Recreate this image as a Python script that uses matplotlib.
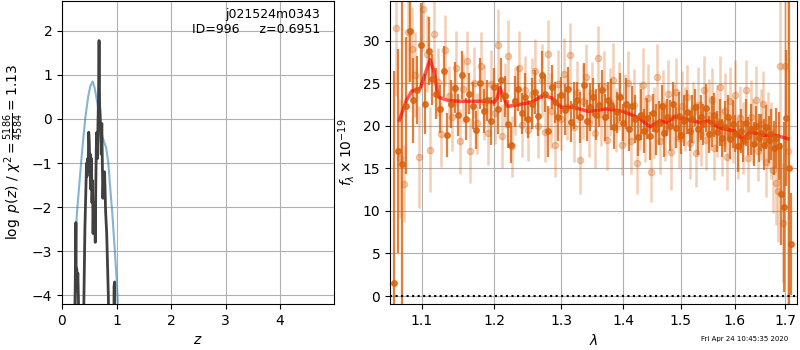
#!/usr/bin/python
"""Redshift fit summary figure: p(z) on the left, spectrum on the right."""

import numpy as np
import matplotlib
matplotlib.use('Agg')
import matplotlib.pyplot as plt

# p(z) panel
# -----------------------------------------------------------------------------
z_prior = [0.20, 0.24, 0.27, 0.31, 0.35, 0.39, 0.43, 0.48, 0.52, 0.563, 0.60,
           0.65, 0.70, 0.74, 0.78, 0.81, 0.85, 0.88, 0.92, 0.97, 1.00, 1.03, 1.06]
logp_prior = [-5.5, -3.4, -2.2, -1.6, -1.0, -0.45, 0.05, 0.5, 0.75, 0.85, 0.7,
              0.35, -0.1, -0.4, -0.55, -0.65, -1.0, -1.5, -2.1, -3.0, -3.6, -4.3, -5.5]

z_fit = [0.22, 0.245, 0.255, 0.262, 0.27, 0.28, 0.29, 0.30, 0.33, 0.38,
         0.42, 0.44, 0.45, 0.46, 0.47, 0.48, 0.49, 0.50, 0.51, 0.52,
         0.53, 0.54, 0.55, 0.56, 0.57, 0.58, 0.59, 0.60, 0.61, 0.62,
         0.63, 0.64, 0.65, 0.66, 0.67, 0.68, 0.69, 0.70, 0.71, 0.72,
         0.73, 0.74, 0.75, 0.76, 0.77, 0.78, 0.79, 0.80, 0.82, 0.85,
         0.87, 0.95, 0.955, 0.965, 0.975]
logp_fit = [-6.0, -4.0, -2.35, -3.9, -3.4, -3.9, -3.5, -4.0, -6.0, -6.0,
            -2.5, -1.5, -1.0, -1.3, -0.9, -1.1, -0.3, -0.5, -1.2, -0.8,
            -1.6, -0.9, -1.9, -1.4, -2.6, -1.9, -2.4, -2.0, -2.8, -1.5,
            -0.6, -0.3, -0.9, -0.1, 0.5, 1.78, 0.3, 0.1, -0.3, -0.8,
            -0.1, -1.0, -1.8, -1.4, -1.7, -1.2, -1.6, -2.1, -2.6, -4.0,
            -6.0, -6.0, -3.8, -3.7, -6.0]

# spectrum panel
# -----------------------------------------------------------------------------
wave_dark = np.linspace(1.064, 1.712, 130)
flux_dark = [1.5, 17.0, 15.5, 22.4, 31.2, 23.0, 24.2, 29.5, 22.6, 28.8,
             25.5, 23.8, 22.0, 26.4, 18.9, 22.6, 24.5, 21.3, 26.0, 20.8,
             23.8, 22.4, 19.5, 25.0, 21.8, 23.0, 20.6, 24.6, 22.0, 25.4,
             23.5, 20.2, 17.8, 22.9, 24.4, 21.5, 23.4, 20.8, 22.6, 24.0,
             21.2, 26.0, 23.8, 19.4, 24.6, 22.8, 21.0, 23.6, 21.9, 24.3,
             20.5, 22.4, 23.0, 21.0, 24.8, 20.6, 22.2, 23.4, 21.3, 22.5,
             24.2, 21.0, 23.0, 22.5, 19.9, 21.6, 23.4, 20.4, 22.6, 19.6,
             22.3, 20.8, 18.7, 21.3, 19.4, 20.9, 18.8, 21.5, 19.6, 20.3,
             22.4, 19.2, 21.0, 20.0, 22.6, 19.8, 21.2, 18.9, 20.6, 21.6,
             19.4, 20.8, 22.2, 19.6, 21.0, 20.2, 22.1, 19.0, 20.5, 21.3,
             19.3, 20.4, 18.6, 19.9, 21.0, 18.5, 20.2, 19.1, 17.6, 19.4,
             18.2, 20.4, 18.8, 19.6, 17.9, 20.0, 18.6, 19.2, 17.8, 19.9,
             18.4, 19.0, 17.4, 18.6, 17.6, 12.0, 10.5, 20.9, 15.0, 6.1]
err_dark = [25.0, 12.0, 20.0, 8.0, 6.0, 5.0, 4.0, 5.0, 3.5, 4.0,
            3.0, 3.0, 2.8, 3.0, 2.6, 2.8, 3.0, 2.5, 2.8, 2.5,
            2.4, 2.8, 2.2, 3.0, 2.6, 2.4, 2.8, 2.2, 3.0, 2.6,
            2.4, 2.8, 2.2, 3.0, 2.6, 2.4, 2.8, 2.2, 3.0, 2.6,
            2.4, 2.8, 2.2, 3.0, 2.6, 2.4, 2.8, 2.2, 3.0, 2.6,
            2.4, 2.8, 2.2, 3.0, 2.6, 2.4, 2.8, 2.2, 3.0, 2.6,
            2.4, 2.8, 2.2, 3.0, 2.6, 2.4, 2.8, 2.2, 3.0, 2.6,
            2.4, 2.8, 2.2, 3.0, 2.6, 2.4, 2.8, 2.2, 3.0, 2.6,
            2.4, 2.8, 2.2, 3.0, 2.6, 2.4, 2.8, 2.2, 3.0, 2.6,
            2.4, 2.8, 2.2, 3.0, 2.6, 2.4, 2.8, 2.2, 3.0, 2.6,
            2.4, 2.8, 2.2, 3.0, 2.6, 2.4, 2.8, 2.2, 3.0, 2.6,
            2.4, 2.8, 2.2, 3.0, 2.6, 2.4, 2.8, 2.2, 3.0, 2.6,
            2.8, 3.0, 3.2, 3.5, 4.0, 6.0, 10.0, 8.0, 22.0, 6.0]

wave_light = np.linspace(1.067, 1.705, 130)
flux_light = [31.5, 16.2, 13.2, 31.0, 29.0, 26.0, 16.4, 33.8, 28.5, 17.2,
              30.8, 25.2, 19.0, 28.9, 23.5, 21.0, 26.8, 18.2, 24.4, 27.6,
              17.1, 25.1, 20.3, 27.0, 22.8, 19.2, 24.9, 21.5, 29.5, 18.8,
              23.6, 28.2, 17.6, 22.9, 26.8, 20.1, 24.2, 19.5, 23.8, 26.4,
              20.0, 25.4, 19.3, 28.4, 21.8, 17.8, 24.9, 20.8, 26.1, 22.2,
              28.3, 19.9, 24.0, 16.0, 22.9, 25.8, 20.3, 23.9, 19.2, 28.0,
              21.4, 24.6, 18.4, 22.8, 25.4, 20.7, 23.5, 17.8, 21.9, 25.0,
              18.2, 22.5, 15.6, 21.2, 24.8, 19.6, 23.3, 14.6, 20.4, 25.8,
              18.2, 22.4, 19.5, 23.7, 16.9, 21.1, 24.0, 18.6, 22.3, 20.8,
              23.4, 18.0, 21.6, 16.8, 22.5, 19.1, 24.2, 18.4, 21.3, 23.0,
              17.4, 20.6, 24.6, 18.1, 21.8, 16.3, 22.9, 19.2, 23.6, 17.6,
              20.9, 18.6, 24.2, 16.2, 21.0, 19.4, 23.1, 17.1, 20.2, 22.6,
              15.7, 19.5, 18.3, 14.8, 13.3, 12.3, 27.0, 8.6, 27.0, 17.0]
err_light = [8.0, 7.0, 4.5, 6.0, 5.0, 5.0, 6.0, 5.0, 4.5, 5.0,
             4.5, 4.0, 3.8, 4.2, 3.6, 4.0, 4.4, 3.8, 4.0, 3.6,
             3.8, 4.2, 3.6, 4.0, 4.4, 3.8, 4.0, 3.6, 4.2, 3.8,
             3.8, 4.2, 3.6, 4.0, 4.4, 3.8, 4.0, 3.6, 4.2, 3.8,
             3.8, 4.2, 3.6, 4.0, 4.4, 3.8, 4.0, 3.6, 4.2, 3.8,
             3.8, 4.2, 3.6, 4.0, 4.4, 3.8, 4.0, 3.6, 4.2, 3.8,
             3.8, 4.2, 3.6, 4.0, 4.4, 3.8, 4.0, 3.6, 4.2, 3.8,
             3.8, 4.2, 3.6, 4.0, 4.4, 3.8, 4.0, 3.6, 4.2, 3.8,
             3.8, 4.2, 3.6, 4.0, 4.4, 3.8, 4.0, 3.6, 4.2, 3.8,
             3.8, 4.2, 3.6, 4.0, 4.4, 3.8, 4.0, 3.6, 4.2, 3.8,
             3.8, 4.2, 3.6, 4.0, 4.4, 3.8, 4.0, 3.6, 4.2, 3.8,
             3.8, 4.2, 3.6, 4.0, 4.4, 3.8, 4.0, 3.6, 4.2, 3.8,
             4.0, 4.5, 4.5, 5.0, 5.0, 6.0, 8.0, 7.0, 9.0, 18.0]

wave_model = [1.071, 1.080, 1.087, 1.098, 1.104, 1.111, 1.116, 1.122, 1.135, 1.150,
              1.170, 1.190, 1.200, 1.204, 1.208, 1.213, 1.219, 1.235, 1.255, 1.272,
              1.285, 1.300, 1.319, 1.343, 1.373, 1.400, 1.425, 1.446, 1.463, 1.475,
              1.490, 1.515, 1.535, 1.550, 1.570, 1.600, 1.615, 1.630, 1.656, 1.680,
              1.705]
flux_model = [20.7, 23.0, 24.1, 24.4, 26.0, 27.8, 26.5, 23.4, 23.0, 22.9,
              22.9, 22.9, 22.8, 23.3, 24.5, 23.4, 22.3, 22.5, 22.8, 23.6,
              23.3, 22.2, 22.2, 21.7, 22.0, 21.7, 21.0, 19.9, 20.6, 20.4,
              21.1, 20.7, 20.4, 20.6, 19.8, 19.4, 18.4, 19.3, 18.9, 18.9,
              18.5]

xticks_spec = [1.1, 1.2, 1.3, 1.4, 1.5, 1.6, 1.7]
orange = '#d9600b'


# main function
# -----------------------------------------------------------------------------
def main():
    fig = plt.figure(figsize=(8, 3.5), dpi=100)

    # left: p(z)
    ax = fig.add_axes([0.0775, 0.1314, 0.34, 0.866])
    ax.plot(z_prior, logp_prior, color='tab:blue', alpha=0.55, lw=1.5)
    ax.plot(z_fit, logp_fit, color='0.25', lw=2)
    ax.set_xlim(0, 4.99)
    ax.set_ylim(-4.2, 2.68)
    ax.set_xticks([0, 1, 2, 3, 4])
    ax.set_yticks([-4, -3, -2, -1, 0, 1, 2])
    ax.grid()
    ax.set_xlabel(r'$z$')
    ax.set_ylabel(r'$\log\ p(z)$' + ' / ' + r'$\chi^2=\frac{5186}{4584}=1.13$')
    ax.text(0.95, 0.975, 'j021524m0343\nID=996     z=0.6951', ha='right',
            va='top', transform=ax.transAxes, fontsize=9)

    # right: spectrum
    bx = fig.add_axes([0.4875, 0.1314, 0.50875, 0.866])
    bx.errorbar(wave_light, flux_light, yerr=err_light, marker='o', ms=4.5,
                linestyle='None', color=orange, alpha=0.3, elinewidth=1.8)
    bx.errorbar(wave_dark, flux_dark, yerr=err_dark, marker='o', ms=4,
                linestyle='None', color=orange, alpha=0.8, elinewidth=1.6)
    bx.plot(wave_model, flux_model, color='red', alpha=0.65, lw=2.5)
    bx.axhline(0, color='k', linestyle=':', lw=1.5)
    bx.set_xscale('log')
    bx.set_xlim(1.059, 1.724)
    bx.set_ylim(-0.94, 34.7)
    bx.set_xticks(xticks_spec)
    bx.set_xticklabels(['%.1f' % v for v in xticks_spec])
    bx.xaxis.set_minor_locator(matplotlib.ticker.NullLocator())
    bx.grid()
    bx.set_xlabel(r'$\lambda$')
    bx.set_ylabel(r'$f_\lambda\times10^{-19}$')

    fig.text(0.985, 0.031, 'Fri Apr 24 10:45:35 2020', ha='right',
             va='center', fontsize=5)
    fig.savefig('out.png', dpi=100)

if __name__ == '__main__':
    main()
